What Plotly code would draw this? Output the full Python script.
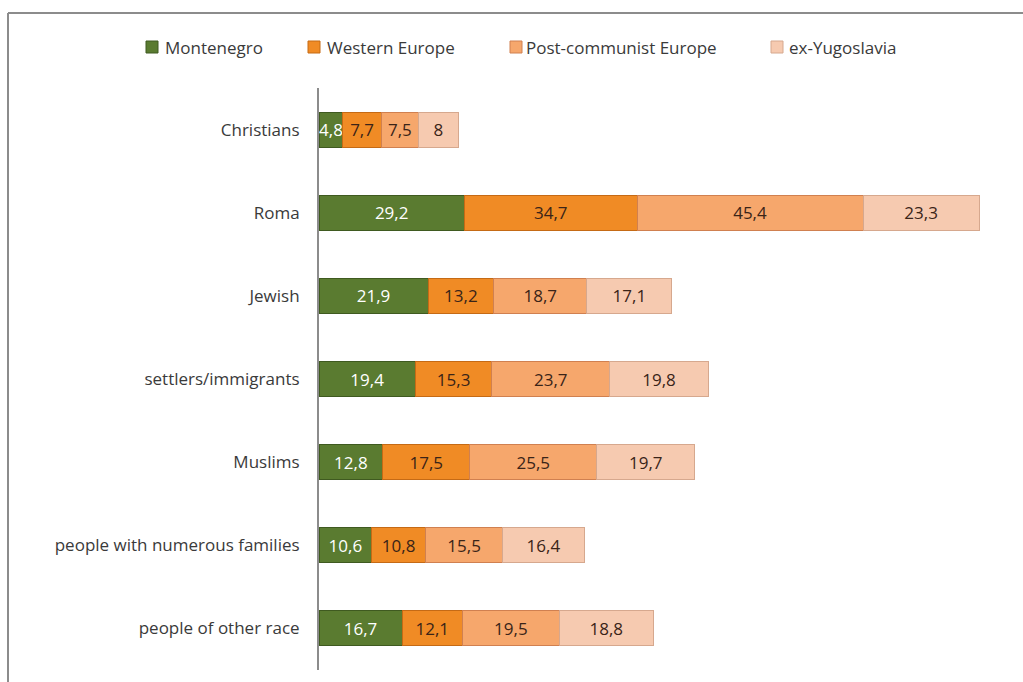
import plotly.graph_objects as go

# Groups (top to bottom) and share values per region
groups = ["Christians", "Roma", "Jewish", "settlers/immigrants", "Muslims",
          "people with numerous families", "people of other race"]
montenegro = [4.8, 29.2, 21.9, 19.4, 12.8, 10.6, 16.7]
western_europe = [7.7, 34.7, 13.2, 15.3, 17.5, 10.8, 12.1]
post_communist = [7.5, 45.4, 18.7, 23.7, 25.5, 15.5, 19.5]
ex_yugoslavia = [8, 23.3, 17.1, 19.8, 19.7, 16.4, 18.8]

series = [
    ("Montenegro", montenegro, "#5a7b30", "#3f5a20", "white"),
    ("Western Europe", western_europe, "#f08b25", "#c56a15", "#3a2418"),
    ("Post-communist Europe", post_communist, "#f6a76c", "#d08050", "#3a2418"),
    ("ex-Yugoslavia", ex_yugoslavia, "#f6cab0", "#d6a88e", "#3a2418"),
]

# Plot area in pixels (used to place the frame and the legend row)
W, H = 1023, 682
L, R, T, B = 319, 23, 88, 12
pw, ph = W - L - R, H - T - B


def px_x(x):
    return (x - L) / pw


def px_y(y):
    return (H - B - y) / ph


fig = go.Figure()
for name, vals, fill, edge, tcol in series:
    fig.add_trace(go.Bar(
        name=name,
        y=groups,
        x=vals,
        orientation="h",
        marker=dict(color=fill, line=dict(color=edge, width=1)),
        texttemplate="%{x}",
        textposition="inside",
        insidetextanchor="middle",
        textangle=0,
        cliponaxis=False,
        textfont=dict(color=tcol, size=17, family="Open Sans"),
        hoverinfo="skip",
        showlegend=False,
    ))

# Chart frame (top and left edges)
frame = dict(color="#8c8c8c", width=2)
fig.add_shape(type="line", xref="paper", yref="paper",
              x0=px_x(8), x1=px_x(1030), y0=px_y(13), y1=px_y(13), line=frame)
fig.add_shape(type="line", xref="paper", yref="paper",
              x0=px_x(8), x1=px_x(8), y0=px_y(13), y1=px_y(690), line=frame)

# Legend row: coloured square followed by the series name
legend_pos = [(146, 163), (308, 325), (510, 524), (771, 787)]
ly = 47
for (name, _, fill, edge, _), (mx, tx) in zip(series, legend_pos):
    fig.add_shape(type="rect", xref="paper", yref="paper",
                  x0=px_x(mx), x1=px_x(mx + 12), y0=px_y(ly - 6), y1=px_y(ly + 6),
                  fillcolor=fill, line=dict(color=edge, width=1))
    fig.add_annotation(xref="paper", yref="paper", x=px_x(tx), y=px_y(ly),
                       xanchor="left", yanchor="middle", showarrow=False,
                       text=name, font=dict(size=17, color="#3a3a3a", family="Open Sans"))

fig.update_layout(
    width=W, height=H,
    barmode="stack",
    bargap=0.58,
    separators=",.",
    uniformtext=dict(minsize=17, mode="show"),
    paper_bgcolor="white",
    plot_bgcolor="white",
    margin=dict(l=L, r=R, t=T, b=B),
    font=dict(family="Open Sans", size=17, color="#3a3a3a"),
    showlegend=False,
    xaxis=dict(range=[0, 136.8], visible=False, fixedrange=True),
    yaxis=dict(categoryorder="array", categoryarray=groups, autorange="reversed",
               showline=True, linecolor="#8c8c8c", linewidth=2,
               showgrid=False, zeroline=False, ticks="",
               ticklabelstandoff=14, tickfont=dict(size=17, color="#3a3a3a")),
)

fig.write_html("out.html")
